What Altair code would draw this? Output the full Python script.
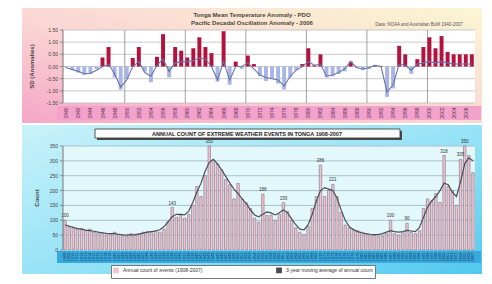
import altair as alt
import pandas as pd

# ---------------- data ----------------
top_years = list(range(1940, 2008))
top_bars = [-0.05, -0.15, -0.25, -0.35, -0.30, -0.10, 0.37, 0.80, -0.45, -0.95,
            -0.50, 0.35, 0.80, -0.20, -0.65, 0.40, 1.33, -0.45, 0.80, 0.65,
            0.37, 0.75, 1.20, 0.80, 0.55, -0.62, 1.45, -0.75, 0.20, -0.10,
            0.45, 0.10, -0.40, -0.60, -0.50, -0.70, -0.95, -0.45, -0.15, 0.10,
            0.75, 0.05, 0.50, -0.45, -0.40, -0.30, -0.20, 0.20, -0.05, -0.15,
            -0.10, 0.05, 0.02, -1.25, -0.90, 0.85, 0.50, -0.30, 0.30, 0.80,
            1.20, 0.75, 1.25, 0.60, 0.50, 0.50, 0.50, 0.50]
top_line = [-0.05, -0.12, -0.20, -0.30, -0.28, -0.15, 0.00, 0.10, -0.30, -0.85,
            -0.55, 0.00, 0.20, -0.25, -0.40, 0.05, 0.30, -0.20, 0.15, 0.20,
            0.20, 0.25, 0.35, 0.30, 0.00, -0.55, 0.20, -0.55, 0.00, 0.00,
            0.15, -0.10, -0.35, -0.45, -0.50, -0.55, -0.80, -0.40, -0.15, 0.00,
            0.20, 0.05, 0.10, -0.40, -0.35, -0.25, -0.10, 0.20, -0.05, -0.10,
            -0.05, 0.05, 0.00, -1.05, -0.75, 0.10, 0.05, -0.15, 0.10, 0.15,
            0.20, 0.15, 0.20, 0.15, 0.10, 0.10, 0.10, 0.10]
top_yticks = [-1.5, -1.0, -0.5, 0.0, 0.5, 1.0, 1.5]
top_decades = [1950, 1960, 1970, 1980, 1990, 2000]
top_xlabels = list(range(1940, 2008, 2))

bot_years = list(range(1908, 2008))
bot_counts = [100, 80, 75, 70, 72, 65, 70, 60, 55, 58,
              50, 55, 60, 52, 48, 45, 55, 50, 52, 60,
              62, 58, 65, 60, 70, 95, 143, 110, 117, 107,
              120, 150, 214, 180, 250, 350, 302, 290, 270, 237,
              220, 172, 224, 172, 159, 140, 107, 94, 188, 117,
              117, 100, 120, 159, 130, 100, 75, 60, 52, 80,
              140, 180, 286, 180, 200, 221, 180, 127, 84, 75,
              70, 65, 60, 55, 52, 50, 45, 48, 55, 100,
              55, 50, 58, 90, 60, 55, 65, 140, 172, 165,
              190, 160, 318, 214, 200, 150, 305, 350, 318, 260]
bot_avg = [85, 80, 76, 72, 70, 67, 65, 63, 60, 58,
           56, 55, 55, 53, 51, 50, 51, 52, 54, 57,
           60, 62, 64, 68, 78, 95, 112, 120, 120, 118,
           130, 160, 195, 225, 265, 295, 305, 290, 270, 248,
           225, 205, 190, 172, 155, 135, 118, 112, 120, 128,
           125, 118, 125, 135, 125, 105, 85, 70, 68, 85,
           120, 165, 200, 210, 205, 200, 175, 135, 100, 78,
           68, 62, 58, 55, 53, 52, 52, 55, 60, 65,
           62, 60, 62, 66, 64, 62, 75, 110, 145, 165,
           180, 200, 225, 220, 195, 180, 230, 290, 310, 300]
bot_yticks = [0, 50, 100, 150, 200, 250, 300, 350]
peak_years = [1908, 1934, 1943, 1956, 1961, 1970, 1973, 1987, 1991, 2000, 2004, 2005]

top_title1 = "Tonga Mean Temperature Anomaly - PDO"
top_title2 = "Pacific Decadal Oscillation Anomaly - 2006"
top_note = "Data: NOAA and Australian BoM 1940-2007"
top_ytitle = "SD (Anomalies)"
bot_title = "ANNUAL COUNT OF EXTREME WEATHER EVENTS IN TONGA 1908-2007"
bot_ytitle = "Count"
bar_name = "Annual count of events (1908-2007)"
line_name = "3-year moving average of annual count"

# ---------------- layout ----------------
W = 412
TH = 73
BH = 104
one = pd.DataFrame({"k": [0]})
FONT = "Liberation Sans"


def box(fill, x, x2, y, y2, **kw):
    return alt.Chart(one).mark_rect(color=fill, **kw).encode(
        x=alt.value(x), x2=alt.value(x2), y=alt.value(y), y2=alt.value(y2))


def label(text, x, y, size, **kw):
    return alt.Chart(one).mark_text(text=text, fontSize=size, font=FONT, **kw).encode(
        x=alt.value(x), y=alt.value(y))


top_grad = alt.LinearGradient(
    gradient="linear", x1=0, y1=1, x2=1, y2=0,
    stops=[alt.GradientStop(color="#f4a6c6", offset=0),
           alt.GradientStop(color="#fad6d4", offset=0.45),
           alt.GradientStop(color="#fbf6d2", offset=1)])
bot_grad = alt.LinearGradient(
    gradient="linear", x1=0, y1=0, x2=1, y2=1,
    stops=[alt.GradientStop(color="#c9f2fa", offset=0),
           alt.GradientStop(color="#8ee0f5", offset=0.6),
           alt.GradientStop(color="#52c8ee", offset=1)])

# ---------------- top chart ----------------
top_df = pd.DataFrame({"year": top_years, "value": top_bars, "smooth": top_line})
top_df["sign"] = ["pos" if v >= 0 else "neg" for v in top_bars]
top_tick_df = pd.DataFrame({"value": top_yticks, "txt": [f"{v:.2f}" for v in top_yticks]})
top_xlab_df = pd.DataFrame({"year": top_xlabels, "txt": [str(y) for y in top_xlabels]})

xt_scale = alt.Scale(paddingInner=0.35, paddingOuter=0.2, domain=top_years)
yt_scale = alt.Scale(domain=[-1.5, 1.5], nice=False)
XT = dict(scale=xt_scale, axis=None)
YT = dict(scale=yt_scale, axis=None)

top_grid = alt.Chart(top_tick_df).mark_rule(color="#bdbdbd", strokeWidth=0.8).encode(
    y=alt.Y("value:Q", **YT))
top_ticks = alt.Chart(top_tick_df).mark_rule(color="#777", strokeWidth=0.8).encode(
    y=alt.Y("value:Q", **YT), x=alt.value(-3), x2=alt.value(0))
top_ylabels = alt.Chart(top_tick_df).mark_text(align="right", baseline="middle", fontSize=5,
                                               font=FONT, color="#444").encode(
    y=alt.Y("value:Q", **YT), x=alt.value(-5), text="txt:N")
top_xlabels_c = alt.Chart(top_xlab_df).mark_text(angle=270, align="center", baseline="middle",
                                                 fontSize=5, font=FONT, color="#5a3050").encode(
    x=alt.X("year:O", **XT), y=alt.value(TH + 10), text="txt:N")
top_vgrid = alt.Chart(pd.DataFrame({"year": top_decades})).mark_rule(
    color="#8a8a8a", strokeWidth=0.8).encode(x=alt.X("year:O", bandPosition=0, **XT))
top_barsc = alt.Chart(top_df).mark_bar().encode(
    x=alt.X("year:O", **XT),
    y=alt.Y("value:Q", **YT),
    color=alt.Color("sign:N", scale=alt.Scale(domain=["pos", "neg"], range=["#b3123e", "#a9b5e6"]),
                    legend=None))
top_linec = alt.Chart(top_df).mark_line(color="#6673a8", strokeWidth=1.1).encode(
    x=alt.X("year:O", **XT), y=alt.Y("smooth:Q", **YT))

top = alt.layer(
    box(top_grad, -41, 419, -22, TH + 20),
    box("#f2a2cb", -6, W + 6, TH + 3, TH + 17),
    box("white", 0, W, 0, TH),
    top_grid, top_vgrid, top_barsc, top_linec,
    box("#777", -0.5, 0.5, 0, TH),
    top_ticks, top_ylabels, top_xlabels_c,
    label(top_ytitle, -31, TH / 2, 6, angle=270, fontWeight="bold", color="#444"),
    label(top_title1, 189, -15, 6, fontWeight="bold", color="#4a4838"),
    label(top_title2, 189, -7, 6, fontWeight="bold", color="#4a4838"),
    label(top_note, 356, -5, 4.5, color="#555"),
).properties(width=W, height=TH)

# ---------------- bottom chart ----------------
bot_df = pd.DataFrame({"year": bot_years, "count": bot_counts, "avg": bot_avg})
bot_df["lab"] = [str(c) if y in peak_years else "" for y, c in zip(bot_years, bot_counts)]
bot_df["ylab"] = [str(y) for y in bot_years]
bot_tick_df = pd.DataFrame({"count": bot_yticks, "txt": [str(v) for v in bot_yticks]})

xb_scale = alt.Scale(paddingInner=0.4, paddingOuter=0.2, domain=bot_years)
yb_scale = alt.Scale(domain=[0, 350], nice=False)
XB = dict(scale=xb_scale, axis=None)
YB = dict(scale=yb_scale, axis=None)
col_scale = alt.Scale(domain=[bar_name, line_name], range=["#f1c3d2", "#4d4b58"])

bot_grid = alt.Chart(bot_tick_df[bot_tick_df["count"] > 0]).mark_rule(
    color="#a8c2c9", strokeWidth=1).encode(y=alt.Y("count:Q", **YB))
bot_ticks = alt.Chart(bot_tick_df).mark_rule(color="#777", strokeWidth=0.8).encode(
    y=alt.Y("count:Q", **YB), x=alt.value(-3), x2=alt.value(0))
bot_ylabels = alt.Chart(bot_tick_df).mark_text(align="right", baseline="middle", fontSize=5,
                                               font=FONT, color="#444").encode(
    y=alt.Y("count:Q", **YB), x=alt.value(-5), text="txt:N")
bot_xlabels = alt.Chart(bot_df).mark_text(angle=270, align="center", baseline="middle",
                                          fontSize=4, font=FONT, color="#1c3050").encode(
    x=alt.X("year:O", **XB), y=alt.value(BH + 7), text="ylab:N")
bot_barsc = alt.Chart(bot_df).transform_calculate(series=f"'{bar_name}'").mark_bar(
    stroke="#6c5a6a", strokeWidth=0.5).encode(
    x=alt.X("year:O", **XB),
    y=alt.Y("count:Q", **YB),
    color=alt.Color("series:N", scale=col_scale,
                    legend=alt.Legend(orient="none", legendX=48, legendY=BH + 15, direction="horizontal",
                                      title=None, labelFontSize=5, labelColor="#333", symbolSize=18,
                                      labelFont=FONT, fillColor="white", strokeColor="#777", padding=2,
                                      columnPadding=70, labelLimit=200)))
bot_linec = alt.Chart(bot_df).transform_calculate(series=f"'{line_name}'").mark_line(
    strokeWidth=1.2).encode(
    x=alt.X("year:O", **XB), y=alt.Y("avg:Q", **YB),
    color=alt.Color("series:N", scale=col_scale))
bot_text = alt.Chart(bot_df).mark_text(fontSize=4.5, dy=-4, color="#333", font=FONT).encode(
    x=alt.X("year:O", **XB), y=alt.Y("count:Q", **YB), text="lab:N")

bottom = alt.layer(
    box(bot_grad, -41, 419, -21, BH + 24),
    box("#36aadf", -6, W + 6, BH + 1, BH + 13),
    box("#e3f8fb", 0, W, 0, BH),
    bot_grid, bot_barsc, bot_linec, bot_text,
    box("#777", -0.5, 0.5, 0, BH),
    bot_ticks, bot_ylabels, bot_xlabels,
    label(bot_ytitle, -26, BH / 2, 6, angle=270, fontWeight="bold", color="#444"),
    box("#4a4a4a", 34, 339, -15, -6),
    box("#fbfbfb", 32, 337, -17, -8, stroke="#333", strokeWidth=0.8),
    label(bot_title, 184, -12.5, 5.5, fontWeight="bold", color="#222"),
).properties(width=W, height=BH)

chart = alt.vconcat(top, bottom, spacing=43, bounds="flush").resolve_scale(
    x="independent", y="independent", color="independent"
).resolve_legend(color="independent").properties(
    padding={"left": 14, "top": 0, "right": 0, "bottom": 0},
    background="white",
).configure_view(stroke=None)

chart.save("out.html", embed_options={"renderer": "svg", "actions": False})
